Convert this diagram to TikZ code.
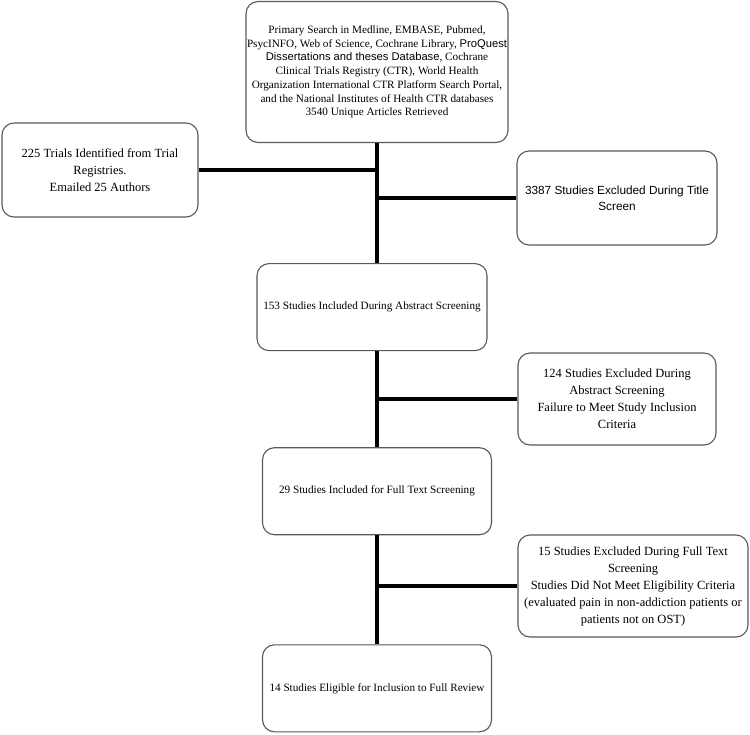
\documentclass[tikz,border=0pt]{standalone}
\usepackage{fontspec}
\setmainfont{Liberation Serif}
\newfontfamily\sansfont{Liberation Sans}
\usetikzlibrary{positioning}

\begin{document}
\begin{tikzpicture}[x=1pt, y=1pt,
        stage/.style={rectangle, draw=black!65, line width=1.1pt, rounded corners=12pt, fill=white,
                      minimum width=229pt, minimum height=87pt, align=center, inner sep=1pt,
                      font=\fontsize{11.2}{13.7}\selectfont},
        side/.style={stage, font=\fontsize{12.5}{17}\selectfont},
        link/.style={line width=4pt, black},
    ]
        \useasboundingbox (0,0) rectangle (750,-734);

        % Colonne principale
        \node[stage, minimum width=257pt, minimum height=141pt] (search) at (377,-72)
            {Primary Search in Medline, EMBASE, Pubmed,\\
             PsycINFO, Web of Science, Cochrane Library, {\sansfont ProQuest}\\
             {\sansfont Dissertations and theses Database}, Cochrane\\
             Clinical Trials Registry (CTR), World Health\\
             Organization International CTR Platform Search Portal,\\
             and the National Institutes of Health CTR databases\\
             3540 Unique Articles Retrieved};
        \node[stage, minimum width=230pt, below=120pt of search, xshift=-5pt] (abstract)
            {153 Studies Included During Abstract Screening};
        \node[stage, below=96pt of abstract, xshift=5pt] (fulltext)
            {29 Studies Included for Full Text Screening};
        \node[stage, below=109pt of fulltext] (eligible)
            {14 Studies Eligible for Inclusion to Full Review};

        % Boites laterales
        \node[side, minimum width=196pt, minimum height=94pt] (trials) at (100,-170)
            {225 Trials Identified from Trial\\ Registries.\\ Emailed 25 Authors};
        \node[stage, minimum width=200pt, minimum height=94pt, font=\sansfont\fontsize{11.8}{16}\selectfont]
            (title) at (617,-198)
            {3387 Studies Excluded During Title\\ Screen};
        \node[side, minimum width=198pt, minimum height=92pt] (absexcl) at (617,-399)
            {124 Studies Excluded During\\ Abstract Screening\\
             Failure to Meet Study Inclusion\\ Criteria};
        \node[side, minimum width=230pt, minimum height=102pt] (fullexcl) at (633,-586)
            {15 Studies Excluded During Full Text\\ Screening\\
             Studies Did Not Meet Eligibility Criteria\\
             (evaluated pain in non-addiction patients or\\ patients not on OST)};

        % Liens
        \draw[link] (search.south) -- (search.south |- abstract.north);
        \draw[link] (search.south |- abstract.south) -- (fulltext.north);
        \draw[link] (fulltext.south) -- (eligible.north);
        \draw[link] (trials.east) -- (trials.east -| search.south);
        \draw[link] (title.west) -- (title.west -| search.south);
        \draw[link] (absexcl.west) -- (absexcl.west -| search.south);
        \draw[link] (fullexcl.west) -- (fullexcl.west -| search.south);
    \end{tikzpicture}
\end{document}
